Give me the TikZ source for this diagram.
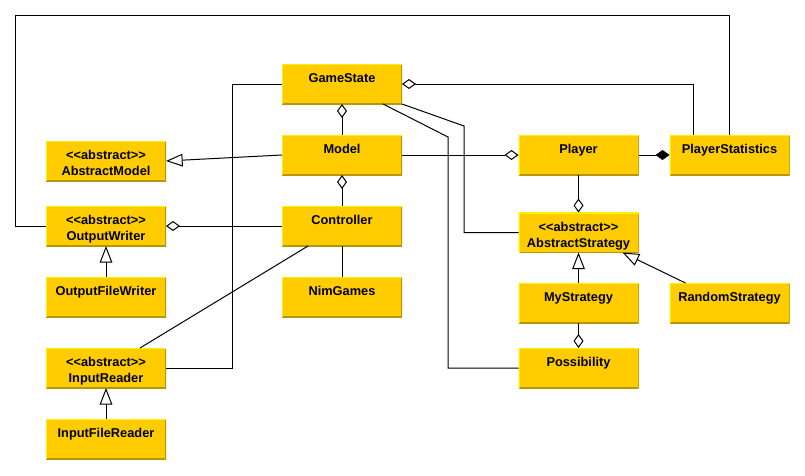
\documentclass[tikz,border=0pt]{standalone}
\usepackage{fontspec}
\setmainfont{Liberation Sans}
\usetikzlibrary{arrows.meta,calc}
\definecolor{clsfill}{HTML}{FFCC00}
\definecolor{clsdark}{HTML}{B8960A}
\definecolor{clslight}{HTML}{FFF000}
\newcommand{\abst}{<\kern0pt<abstract>\kern0pt>\\}
\tikzset{
	cls/.style={fill=clsfill, inner sep=0pt, outer sep=0pt,
		text width=90pt, align=center, text height=14pt, text depth=16pt,
		font=\fontsize{9.6}{12}\selectfont\bfseries,
		path picture={
			\draw[clsdark,line width=1.5pt] (path picture bounding box.south west) -| (path picture bounding box.north east);
			\draw[clslight,line width=1.5pt] (path picture bounding box.south west) |- (path picture bounding box.north east);
		}
	},
	% UML line ends ----------------------------------------
	agg/.tip={Diamond[open,length=10.5pt,width=7.5pt]},
	comp/.tip={Diamond[length=10.5pt,width=7.5pt]},
	inh/.tip={Triangle[open,length=12.5pt,width=9.5pt]},
}
\begin{document}
\begin{tikzpicture}[x=0.75pt,y=-0.75pt,line width=0.75pt]
	\useasboundingbox (0,0) rectangle (805,475);
	\node[cls] (GS) at (342,84) {GameState};
	\node[cls] (M) at (342,155) {Model};
	\node[cls] (AM) at (106,161) {\abst AbstractModel};
	\node[cls] (OW) at (106,226) {\abst OutputWriter};
	\node[cls] (C) at (342,226) {Controller};
	\node[cls] (OFW) at (106,297) {OutputFileWriter};
	\node[cls] (NG) at (342,297) {NimGames};
	\node[cls] (IR) at (106,368) {\abst InputReader};
	\node[cls] (IFR) at (106,439) {InputFileReader};
	\node[cls] (P) at (578.5,155) {Player};
	\node[cls] (PS) at (729.5,155) {PlayerStatistics};
	\node[cls] (AS) at (578.5,232.5) {\abst AbstractStrategy};
	\node[cls] (MS) at (578.5,303) {MyStrategy};
	\node[cls] (RS) at (729.5,303) {RandomStrategy};
	\node[cls] (Pos) at (578.5,368) {Possibility};
	\coordinate (top) at (15,15);
	% plain associations
	\draw (OW.west) -| (top) -| (PS.north);
	\draw (GS.west) -| ($(IR.east)+(66,0)$) -- (IR.east);
	\draw (GS.south east) -- (464,126) |- (AS.west);
	\draw ($(GS.south)+(41,0)$) -- (448,137) |- (Pos.west);
	\draw (C.south) -- (NG.north);
	\draw ($(C.south west)+(26,0)$) -- ($(IR.north)+(34,0)$);
	% aggregation / composition
	\draw[agg-] (GS.east) -| ($(PS.north)+(-36,0)$);
	\draw[agg-] (GS.south) -- (M.north);
	\draw[agg-] (M.south) -- (C.north);
	\draw[-agg] (M.east) -- (P.west);
	\draw[-comp] (P.east) -- (PS.west);
	\draw[-agg] (P.south) -- (AS.north);
	\draw[-agg] (C.west) -- (OW.east);
	\draw[-agg] (MS.south) -- (Pos.north);
	% inheritance
	\draw[-inh] (M.west) -- (AM.east);
	\draw[-inh] (OFW.north) -- (OW.south);
	\draw[-inh] (IFR.north) -- (IR.south);
	\draw[-inh] (MS.north) -- (AS.south);
	\draw[-inh] ($(RS.north west)+(16,0)$) -- ($(AS.south east)+(-16,0)$);
\end{tikzpicture}
\end{document}
